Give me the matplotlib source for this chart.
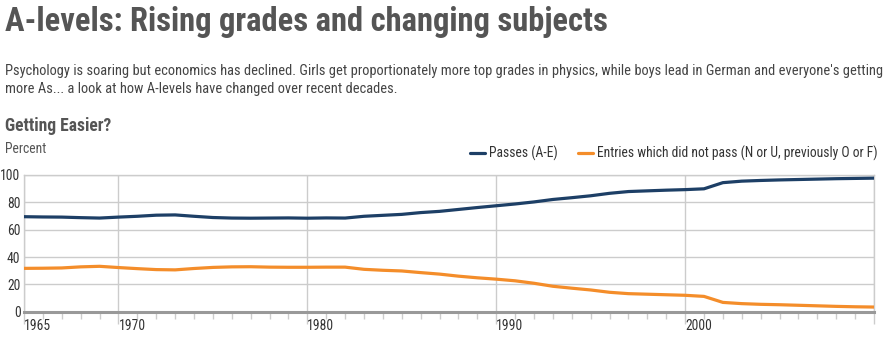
import matplotlib
matplotlib.use("Agg")
import matplotlib.pyplot as plt
from matplotlib import font_manager as fm
from matplotlib.font_manager import FontProperties
from matplotlib.ticker import FixedLocator, MultipleLocator

years = list(range(1965, 2011))
passes = [69.5, 69.3, 69.2, 68.8, 68.5, 69.2, 69.8, 70.6, 70.8, 69.8,
          68.9, 68.5, 68.4, 68.5, 68.6, 68.4, 68.6, 68.5, 69.8, 70.5,
          71.2, 72.5, 73.4, 74.8, 76.2, 77.5, 78.8, 80.3, 82.1, 83.4,
          84.8, 86.6, 87.9, 88.4, 88.9, 89.3, 89.9, 94.4, 95.5, 96.0,
          96.4, 96.7, 97.0, 97.3, 97.5, 97.7]
not_passed = [31.7, 31.8, 32.0, 32.8, 33.2, 32.3, 31.5, 30.8, 30.6, 31.6,
              32.4, 32.8, 32.9, 32.6, 32.5, 32.5, 32.6, 32.6, 31.0, 30.3,
              29.8, 28.6, 27.5, 26.0, 24.8, 23.8, 22.6, 20.8, 18.6, 17.2,
              15.9, 14.2, 13.2, 12.8, 12.4, 12.0, 11.2, 6.8, 5.9, 5.4,
              5.1, 4.7, 4.3, 3.9, 3.6, 3.4]
series_labels = ["Passes (A-E)", "Entries which did not pass (N or U, previously O or F)"]
labelled_years = [1965, 1970, 1980, 1990, 2000, 2010]
year_labels = ["1965", "1970", "1980", "1990", "2000", ""]
y_ticks = [0, 20, 40, 60, 80, 100]

TITLE = "A-levels: Rising grades and changing subjects"
SUBTITLE = ("Psychology is soaring but economics has declined. Girls get proportionately more top grades in physics, "
            "while boys lead in German and everyone's getting\n"
            "more As... a look at how A-levels have changed over recent decades.")
HEADING = "Getting Easier?"
UNIT = "Percent"


def _weight(e):
    w = e.weight
    if isinstance(w, str):
        w = fm.weight_dict.get(w, 400)
    return int(w)


def narrow_font_files():
    """Find a regular and a bold file of a narrow sans face, if one is installed."""
    prefs = ["Liberation Sans Narrow", "Arial Narrow", "Roboto Condensed",
             "Open Sans Condensed", "Noto Sans", "DejaVu Sans"]
    bad = ("mono", "serif", "cjk", "extra", "ultra", "semi", "italic", "oblique")
    cands = []
    for e in fm.fontManager.ttflist:
        low = (e.name + " " + e.fname).lower()
        if any(b in low for b in bad) or e.style != "normal":
            continue
        if e.stretch in ("condensed", "semi-condensed") or "narrow" in low or "condensed" in low:
            cands.append(e)
    for p in prefs + [None]:
        group = [e for e in cands if p is None or e.name.startswith(p)]
        if not group:
            continue
        name = group[0].name
        group = [e for e in group if e.name == name]
        reg = min(group, key=lambda e: abs(_weight(e) - 400))
        bold = min(group, key=lambda e: abs(_weight(e) - 700))
        return reg.fname, bold.fname
    return (fm.findfont(FontProperties(family="Liberation Sans")),
            fm.findfont(FontProperties(family="Liberation Sans", weight="bold")))


REG_FILE, BOLD_FILE = narrow_font_files()


def fp(bold=False, size=10):
    return FontProperties(fname=BOLD_FILE if bold else REG_FILE, size=size)


W, H = 891, 345
fig = plt.figure(figsize=(W / 100, H / 100), dpi=100)
fig.patch.set_facecolor("white")
renderer = fig.canvas.get_renderer()


def fitted_size(s, bold, base, target_px):
    t = fig.text(0, 0, s, fontproperties=fp(bold, base))
    w = t.get_window_extent(renderer).width
    t.remove()
    return min(base * 1.15, base * target_px / w)


title_size = fitted_size(TITLE, True, 26, 605)
sub_size = fitted_size(SUBTITLE.split("\n")[0], False, 12, 875)
head_size = fitted_size(HEADING, True, 15.5, 107)
small_size = fitted_size(series_labels[1], False, 11, 281)

title_col = "#555555"
text_col = "#444444"

fig.text(5 / W, 1 - 6 / H, TITLE, fontproperties=fp(True, title_size),
         color=title_col, va="top", ha="left")
fig.text(5 / W, 1 - 64 / H, SUBTITLE, fontproperties=fp(False, sub_size),
         color=text_col, va="top", ha="left", linespacing=1.35)
fig.text(5 / W, 1 - 117 / H, HEADING, fontproperties=fp(True, head_size),
         color=title_col, va="top", ha="left")
fig.text(5 / W, 1 - 142 / H, UNIT, fontproperties=fp(False, small_size),
         color=title_col, va="top", ha="left")

ax = fig.add_axes([24 / W, 1 - 311.7 / H, (874 - 24) / W, (311.7 - 175) / H])
ax.set_xlim(1965, 2010)
ax.set_ylim(0, 100)

grid_col = "#cccccc"
l1, = ax.plot(years, passes, color="#1d3f66", lw=2.3, solid_joinstyle="round",
              solid_capstyle="round", label=series_labels[0], zorder=3)
l2, = ax.plot(years, not_passed, color="#f48d2a", lw=2.3, solid_joinstyle="round",
              solid_capstyle="round", label=series_labels[1], zorder=3)

ax.set_yticks(y_ticks)
ax.yaxis.grid(True, color=grid_col, lw=1)
ax.xaxis.set_major_locator(FixedLocator(labelled_years))
ax.set_xticklabels(year_labels)
ax.xaxis.set_minor_locator(MultipleLocator(1))
ax.xaxis.grid(True, which="major", color=grid_col, lw=1)
ax.set_axisbelow(True)

for side in ("left", "right", "top"):
    ax.spines[side].set_color(grid_col)
    ax.spines[side].set_linewidth(1)
ax.spines["bottom"].set_color("#999999")
ax.spines["bottom"].set_linewidth(2.2)
ax.spines["bottom"].set_zorder(4)

ax.tick_params(axis="y", length=0, pad=2.5, labelcolor="#333333")
ax.tick_params(axis="x", which="major", length=8.5, width=1, color=grid_col,
               pad=-3.5, labelcolor="#333333")
ax.tick_params(axis="x", which="minor", length=5, width=1, color=grid_col)
for lab in ax.get_yticklabels():
    lab.set_fontproperties(fp(False, small_size))
for lab in ax.get_xticklabels():
    lab.set_fontproperties(fp(False, small_size))
    lab.set_horizontalalignment("left")

px = small_size * 100 / 72
fig.legend(handles=[l1, l2], loc="upper right", bbox_to_anchor=(878 / W, 1 - 146 / H),
           ncol=2, frameon=False, prop=fp(False, small_size),
           handlelength=15 / px, handletextpad=4 / px, columnspacing=21 / px,
           borderaxespad=0, borderpad=0, labelcolor="#333333")

fig.savefig("out.png", dpi=100, facecolor="white")
